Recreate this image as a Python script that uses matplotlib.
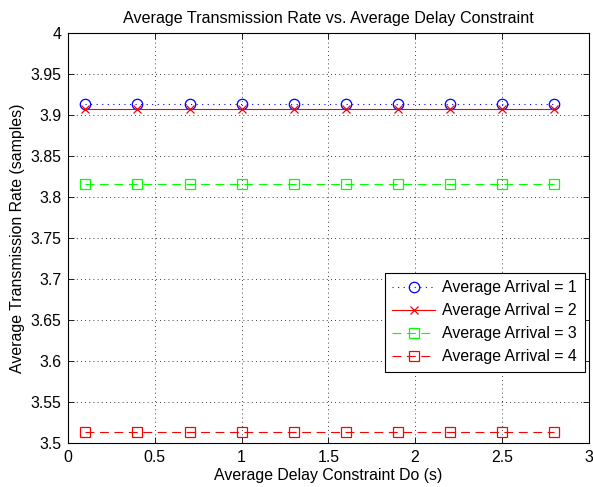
import numpy as np
import matplotlib.pyplot as plt

plt.rcParams["font.family"] = ["Liberation Sans", "DejaVu Sans"]
plt.rcParams["font.size"] = 11.4

# delay constraint Do (s)
delay = [0.1, 0.4, 0.7, 1.0, 1.3, 1.6, 1.9, 2.2, 2.5, 2.8]
# average transmission rate for each arrival rate
rate_arr1 = [3.914] * 10
rate_arr2 = [3.907] * 10
rate_arr3 = [3.816] * 10
rate_arr4 = [3.513] * 10

fig = plt.figure(figsize=(5.93, 4.87), dpi=100)
ax = fig.add_axes([0.1147, 0.0903, 0.878, 0.8419])

ax.plot(delay, rate_arr1, color="#0000ff", ls=(0, (1, 4)), lw=0.8, marker="o",
        ms=7.5, mfc="none", mew=0.9, label="Average Arrival = 1")
ax.plot(delay, rate_arr2, color="#ff0000", ls="-", lw=0.8, marker="x",
        ms=6, mew=0.9, label="Average Arrival = 2")
ax.plot(delay, rate_arr3, color="#00ff00", ls=(0, (8, 5)), lw=0.8, marker="s",
        ms=7, mfc="none", mew=0.9, label="Average Arrival = 3")
ax.plot(delay, rate_arr4, color="#ff0000", ls=(0, (8, 5)), lw=0.8, marker="s",
        ms=7, mfc="none", mew=0.9, label="Average Arrival = 4")

ax.set_xlim(0, 3)
ax.set_ylim(3.5, 4)
ax.set_xticks(np.arange(0, 3.01, 0.5))
ax.set_xticklabels(["0", "0.5", "1", "1.5", "2", "2.5", "3"])
ax.set_yticks(np.arange(3.5, 4.001, 0.05))
ax.set_yticklabels(["3.5", "3.55", "3.6", "3.65", "3.7", "3.75", "3.8",
                    "3.85", "3.9", "3.95", "4"])
ax.tick_params(direction="in", top=True, right=True, length=4, width=0.6,
               labelsize=11.4, pad=5)
ax.grid(True, color="black", ls=(0, (1, 4)), lw=0.6)
for sp in ax.spines.values():
    sp.set_linewidth(0.8)

ax.set_xlabel("Average Delay Constraint Do (s)", labelpad=2)
ax.set_ylabel("Average Transmission Rate (samples)", labelpad=4)
ax.set_title("Average Transmission Rate vs. Average Delay Constraint",
             fontsize=11.6, pad=7)

leg = ax.legend(loc="lower right", bbox_to_anchor=(0.993, 0.173),
                fancybox=False, framealpha=1, edgecolor="black",
                borderpad=0.5, handlelength=2.7, labelspacing=0.5,
                handletextpad=0.45, borderaxespad=0)
leg.get_frame().set_linewidth(0.8)

fig.savefig("out.png", dpi=100)
